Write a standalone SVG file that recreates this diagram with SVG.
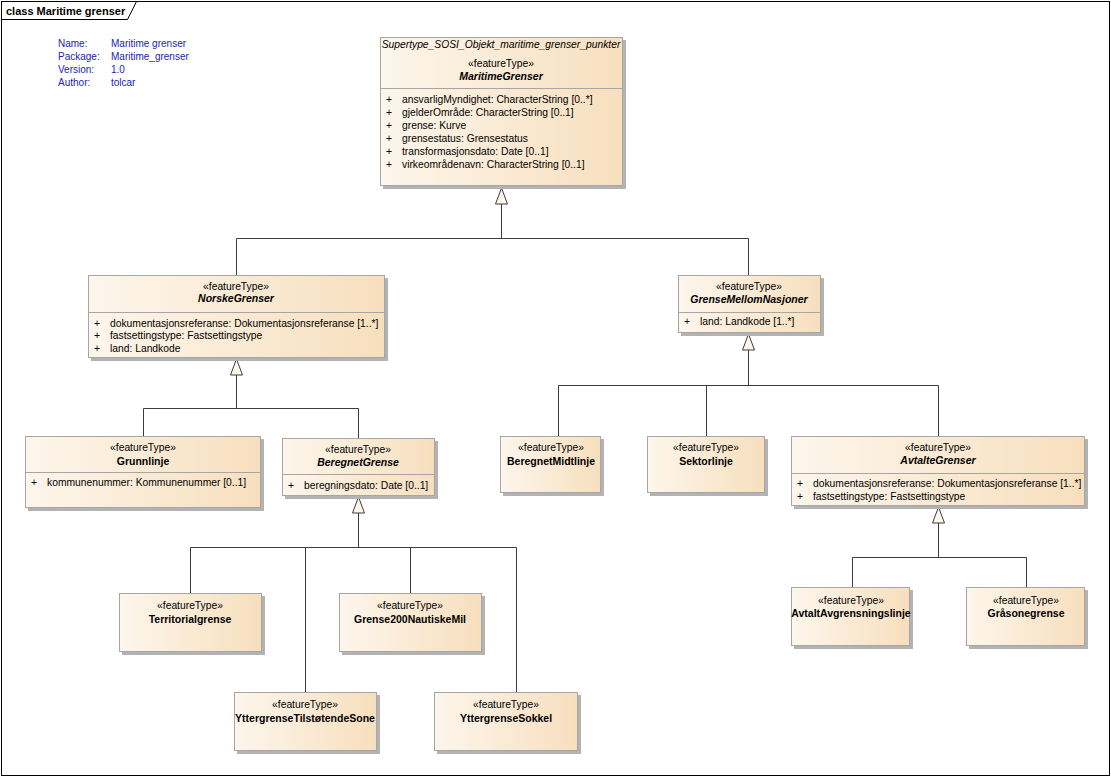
<svg xmlns="http://www.w3.org/2000/svg" width="1111" height="777" viewBox="0 0 1111 777">
<defs>
<linearGradient id="g" x1="0" y1="0" x2="1" y2="0">
<stop offset="0" stop-color="#fdf6ec"/>
<stop offset="1" stop-color="#f7dfbd"/>
</linearGradient>
</defs>
<style>
text{font-family:"Liberation Sans",Arial,sans-serif;font-size:10.3px;fill:#000}
.c{text-anchor:middle}
.b{font-weight:bold;font-size:10.5px}
.i{font-style:italic}
.sh{fill:#b3b3b3}
.bx{fill:url(#g);stroke:#a6a6a6;stroke-width:1}
.dv{stroke:#a6a6a6;stroke-width:1}
.ln{fill:none;stroke:#3c3c3c;stroke-width:1}
.ah{fill:#fdf6ec;stroke:#3c3c3c;stroke-width:1}
.inf{fill:#2323b4;font-size:10px}
</style>
<rect x="0" y="0" width="1111" height="777" fill="#fff"/>
<g id="frame">
<rect x="1.5" y="1.5" width="1108" height="774" fill="none" stroke="#000" stroke-width="1"/>
<path d="M1.5 19.5 H127.5 L136.5 1.5" fill="none" stroke="#000" stroke-width="1"/>
<text x="6" y="15" class="b" style="font-size:11px">class Maritime grenser</text>
</g>
<g id="info">
<text x="58" y="47" class="inf">Name:</text><text x="111" y="47" class="inf">Maritime grenser</text>
<text x="58" y="60" class="inf">Package:</text><text x="111" y="60" class="inf">Maritime_grenser</text>
<text x="58" y="73" class="inf">Version:</text><text x="111" y="73" class="inf">1.0</text>
<text x="58" y="86" class="inf">Author:</text><text x="111" y="86" class="inf">tolcar</text>
</g>
<g id="connectors">
<path class="ln" d="M501.5 204 V238.5 M236.5 238.5 H748.5 M236.5 238.5 V275 M748.5 238.5 V275"/>
<path class="ah" d="M501.5 188 L495.5 204 H507.5 Z"/>
<path class="ln" d="M236.5 375 V408.5 M143.5 408.5 H358.5 M143.5 408.5 V436 M358.5 408.5 V438"/>
<path class="ah" d="M236.5 359 L230.5 375 H242.5 Z"/>
<path class="ln" d="M748.5 350 V385.5 M558.5 385.5 H938.5 M558.5 385.5 V436 M706.5 385.5 V436 M938.5 385.5 V436"/>
<path class="ah" d="M748.5 334 L742.5 350 H754.5 Z"/>
<path class="ln" d="M358.5 513 V547.5 M190.5 547.5 H516.5 M190.5 547.5 V593 M305.5 547.5 V692 M410.5 547.5 V593 M516.5 547.5 V692"/>
<path class="ah" d="M358.5 497 L352.5 513 H364.5 Z"/>
<path class="ln" d="M938.5 523 V557.5 M852.5 557.5 H1026.5 M852.5 557.5 V587 M1026.5 557.5 V587"/>
<path class="ah" d="M938.5 507 L932.5 523 H944.5 Z"/>
</g>
<g id="MaritimeGrenser">
<rect class="sh" x="383" y="40" width="243" height="149"/>
<rect class="bx" x="380.5" y="37.5" width="242" height="148"/>
<line class="dv" x1="380.5" y1="88.5" x2="622.5" y2="88.5"/>
<text x="501" y="48" class="c i">Supertype_SOSI_Objekt_maritime_grenser_punkter</text>
<text x="501" y="67" class="c">«featureType»</text>
<text x="501" y="80" class="c b i">MaritimeGrenser</text>
<text x="386" y="103">+</text><text x="402" y="103">ansvarligMyndighet: CharacterString [0..*]</text>
<text x="386" y="116">+</text><text x="402" y="116">gjelderOmråde: CharacterString [0..1]</text>
<text x="386" y="129">+</text><text x="402" y="129">grense: Kurve</text>
<text x="386" y="142">+</text><text x="402" y="142">grensestatus: Grensestatus</text>
<text x="386" y="155">+</text><text x="402" y="155">transformasjonsdato: Date [0..1]</text>
<text x="386" y="168">+</text><text x="402" y="168">virkeområdenavn: CharacterString [0..1]</text>
</g>
<g id="NorskeGrenser">
<rect class="sh" x="91" y="278" width="297" height="83"/>
<rect class="bx" x="88.5" y="275.5" width="296" height="82"/>
<line class="dv" x1="88.5" y1="312.5" x2="384.5" y2="312.5"/>
<text x="236" y="290" class="c">«featureType»</text>
<text x="236" y="302" class="c b i">NorskeGrenser</text>
<text x="94" y="327">+</text><text x="110" y="327">dokumentasjonsreferanse: Dokumentasjonsreferanse [1..*]</text>
<text x="94" y="339">+</text><text x="110" y="339">fastsettingstype: Fastsettingstype</text>
<text x="94" y="352">+</text><text x="110" y="352">land: Landkode</text>
</g>
<g id="GrenseMellomNasjoner">
<rect class="sh" x="681" y="278" width="143" height="58"/>
<rect class="bx" x="678.5" y="275.5" width="142" height="57"/>
<line class="dv" x1="678.5" y1="312.5" x2="820.5" y2="312.5"/>
<text x="749" y="290" class="c">«featureType»</text>
<text x="749" y="303" class="c b i">GrenseMellomNasjoner</text>
<text x="684" y="325">+</text><text x="700" y="325">land: Landkode [1..*]</text>
</g>
<g id="Grunnlinje">
<rect class="sh" x="28" y="439" width="236" height="72"/>
<rect class="bx" x="25.5" y="436.5" width="235" height="71"/>
<line class="dv" x1="25.5" y1="472.5" x2="260.5" y2="472.5"/>
<text x="143" y="451" class="c">«featureType»</text>
<text x="143" y="465" class="c b">Grunnlinje</text>
<text x="31" y="486">+</text><text x="47" y="486">kommunenummer: Kommunenummer [0..1]</text>
</g>
<g id="BeregnetGrense">
<rect class="sh" x="285" y="441" width="153" height="58"/>
<rect class="bx" x="282.5" y="438.5" width="152" height="57"/>
<line class="dv" x1="282.5" y1="474.5" x2="434.5" y2="474.5"/>
<text x="358" y="453" class="c">«featureType»</text>
<text x="358" y="466" class="c b i">BeregnetGrense</text>
<text x="288" y="489">+</text><text x="304" y="489">beregningsdato: Date [0..1]</text>
</g>
<g id="BeregnetMidtlinje">
<rect class="sh" x="503" y="439" width="101" height="57"/>
<rect class="bx" x="500.5" y="436.5" width="100" height="56"/>
<text x="551" y="451" class="c">«featureType»</text>
<text x="551" y="465" class="c b">BeregnetMidtlinje</text>
</g>
<g id="Sektorlinje">
<rect class="sh" x="650" y="439" width="118" height="57"/>
<rect class="bx" x="647.5" y="436.5" width="117" height="56"/>
<text x="706" y="451" class="c">«featureType»</text>
<text x="706" y="465" class="c b">Sektorlinje</text>
</g>
<g id="AvtalteGrenser">
<rect class="sh" x="794" y="439" width="294" height="70"/>
<rect class="bx" x="791.5" y="436.5" width="293" height="69"/>
<line class="dv" x1="791.5" y1="473.5" x2="1084.5" y2="473.5"/>
<text x="938" y="451" class="c">«featureType»</text>
<text x="938" y="464" class="c b i">AvtalteGrenser</text>
<text x="797" y="487">+</text><text x="813" y="487">dokumentasjonsreferanse: Dokumentasjonsreferanse [1..*]</text>
<text x="797" y="500">+</text><text x="813" y="500">fastsettingstype: Fastsettingstype</text>
</g>
<g id="Territorialgrense">
<rect class="sh" x="122" y="596" width="143" height="59"/>
<rect class="bx" x="119.5" y="593.5" width="142" height="58"/>
<text x="190" y="609" class="c">«featureType»</text>
<text x="190" y="623" class="c b">Territorialgrense</text>
</g>
<g id="Grense200NautiskeMil">
<rect class="sh" x="342" y="596" width="143" height="59"/>
<rect class="bx" x="339.5" y="593.5" width="142" height="58"/>
<text x="410" y="609" class="c">«featureType»</text>
<text x="410" y="623" class="c b">Grense200NautiskeMil</text>
</g>
<g id="YttergrenseTilstotendeSone">
<rect class="sh" x="237" y="695" width="143" height="59"/>
<rect class="bx" x="234.5" y="692.5" width="142" height="58"/>
<text x="305" y="708" class="c">«featureType»</text>
<text x="305" y="722" class="c b">YttergrenseTilstøtendeSone</text>
</g>
<g id="YttergrenseSokkel">
<rect class="sh" x="437" y="695" width="144" height="59"/>
<rect class="bx" x="434.5" y="692.5" width="143" height="58"/>
<text x="506" y="708" class="c">«featureType»</text>
<text x="506" y="722" class="c b">YttergrenseSokkel</text>
</g>
<g id="AvtaltAvgrensningslinje">
<rect class="sh" x="794" y="590" width="119" height="59"/>
<rect class="bx" x="791.5" y="587.5" width="118" height="58"/>
<text x="851" y="604" class="c">«featureType»</text>
<text x="851" y="617" class="c b">AvtaltAvgrensningslinje</text>
</g>
<g id="Grasonegrense">
<rect class="sh" x="969" y="590" width="119" height="59"/>
<rect class="bx" x="966.5" y="587.5" width="118" height="58"/>
<text x="1026" y="604" class="c">«featureType»</text>
<text x="1026" y="617" class="c b">Gråsonegrense</text>
</g>
</svg>
